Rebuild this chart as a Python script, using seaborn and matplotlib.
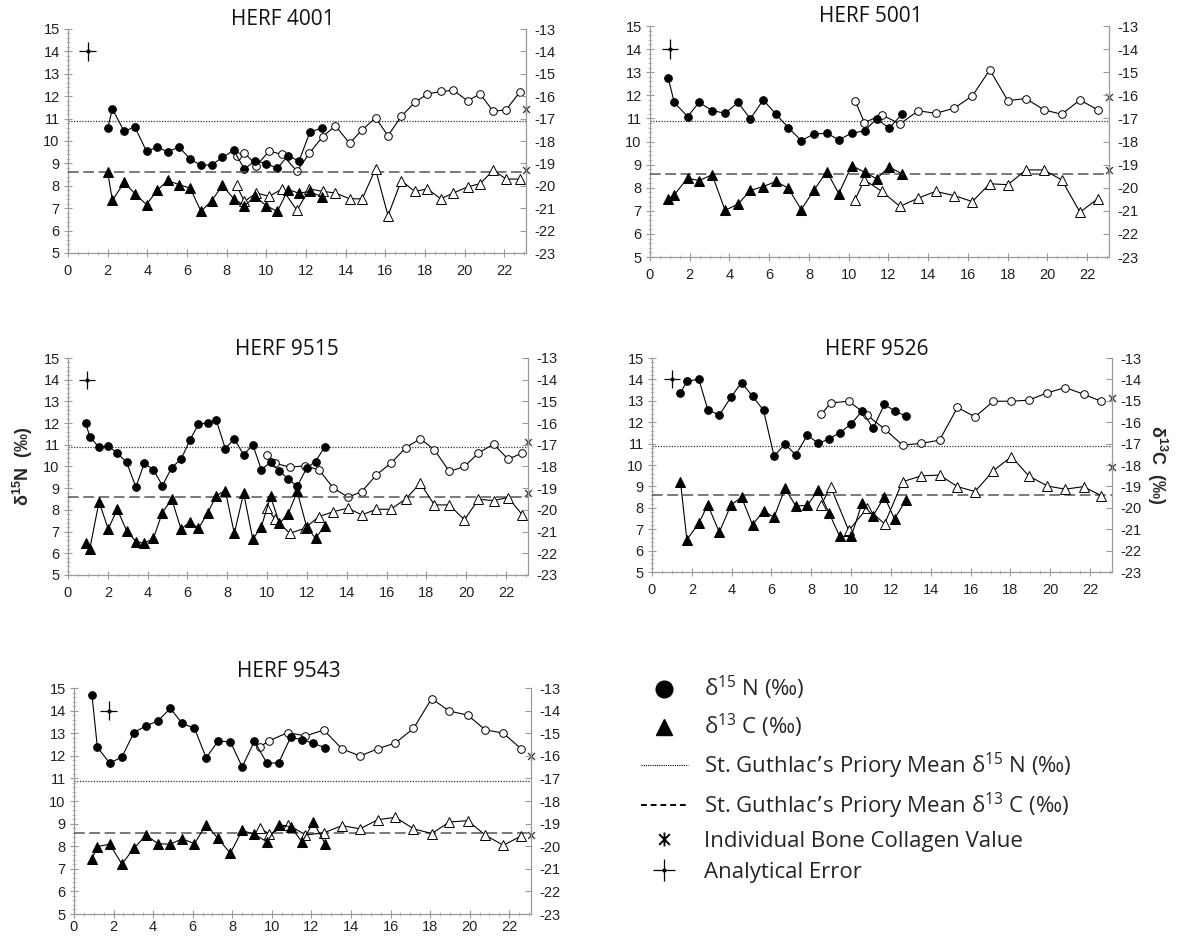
import matplotlib
matplotlib.use("Agg")
import matplotlib.pyplot as plt
import seaborn as sns
from matplotlib.lines import Line2D
from matplotlib.path import Path
from matplotlib.ticker import MultipleLocator

# ---- data ----
MEAN_N = 10.9
MEAN_C = -19.4

# HERF 4001
X_FILL_4001 = [2.0, 2.24, 2.83, 3.37, 3.96, 4.5, 5.03, 5.6, 6.16, 6.71, 7.25, 7.79, 8.35, 8.9, 9.44, 10.0, 10.56, 11.1, 11.65, 12.2, 12.8]
N_FILL_4001 = [10.58, 11.43, 10.43, 10.63, 9.54, 9.72, 9.52, 9.73, 9.2, 8.91, 8.94, 9.27, 9.58, 8.75, 9.12, 8.99, 8.78, 9.35, 9.1, 10.4, 10.58]
C_FILL_4001 = [-19.4, -20.65, -19.85, -20.35, -20.84, -20.2, -19.76, -19.95, -20.1, -21.14, -20.66, -19.98, -20.57, -20.89, -20.47, -20.89, -21.14, -20.17, -20.33, -20.25, -20.5]
X_OPEN_4001 = [8.5, 8.9, 9.5, 10.15, 10.8, 11.55, 12.17, 12.85, 13.49, 14.2, 14.84, 15.51, 16.14, 16.81, 17.49, 18.13, 18.8, 19.44, 20.15, 20.79, 21.45, 22.1, 22.78]
N_OPEN_4001 = [9.35, 9.48, 8.9, 9.55, 9.4, 8.65, 9.45, 10.2, 10.68, 9.9, 10.5, 11.03, 10.24, 11.1, 11.72, 12.1, 12.21, 12.26, 11.8, 12.1, 11.32, 11.4, 12.17]
C_OPEN_4001 = [-19.98, -20.7, -20.32, -20.47, -20.14, -21.1, -20.14, -20.25, -20.32, -20.58, -20.58, -19.25, -21.33, -19.77, -20.25, -20.14, -20.58, -20.32, -20.05, -19.9, -19.31, -19.7, -19.7]

# HERF 5001
X_FILL_5001 = [0.92, 1.22, 1.89, 2.47, 3.13, 3.78, 4.43, 5.05, 5.7, 6.34, 6.96, 7.61, 8.24, 8.9, 9.5, 10.15, 10.8, 11.4, 12.04, 12.68]
N_FILL_5001 = [12.74, 11.69, 11.08, 11.69, 11.34, 11.22, 11.69, 10.98, 11.8, 11.18, 10.6, 10.04, 10.32, 10.36, 10.07, 10.36, 10.46, 10.98, 10.58, 11.18]
C_FILL_5001 = [-20.49, -20.31, -19.59, -19.69, -19.44, -20.98, -20.71, -20.12, -19.95, -19.73, -20.02, -20.95, -20.12, -19.3, -20.26, -19.04, -19.33, -19.61, -19.1, -19.4]
X_OPEN_5001 = [10.32, 10.79, 11.67, 12.58, 13.5, 14.38, 15.3, 16.22, 17.1, 18.01, 18.92, 19.82, 20.72, 21.64, 22.53]
N_OPEN_5001 = [11.77, 10.82, 11.15, 10.76, 11.33, 11.22, 11.44, 11.97, 13.1, 11.77, 11.86, 11.37, 11.18, 11.8, 11.37]
C_OPEN_5001 = [-20.52, -19.66, -20.16, -20.81, -20.45, -20.16, -20.34, -20.6, -19.83, -19.87, -19.23, -19.23, -19.66, -21.06, -20.48]

# HERF 9515
X_FILL_9515 = [0.89, 1.09, 1.56, 2.02, 2.47, 2.94, 3.41, 3.83, 4.29, 4.74, 5.21, 5.68, 6.13, 6.55, 7.01, 7.45, 7.9, 8.35, 8.82, 9.28, 9.71, 10.17, 10.62, 11.06, 11.51, 11.98, 12.43, 12.89]
N_FILL_9515 = [12.0, 11.38, 10.88, 10.95, 10.62, 10.2, 9.05, 10.15, 9.85, 9.12, 9.95, 10.34, 11.23, 11.95, 12.0, 12.12, 10.82, 11.28, 10.54, 11.0, 9.85, 10.2, 9.8, 9.42, 9.08, 9.92, 10.23, 10.9]
C_FILL_9515 = [-21.51, -21.82, -19.62, -20.89, -19.97, -20.95, -21.46, -21.54, -21.31, -20.12, -19.51, -20.89, -20.54, -20.85, -20.15, -19.34, -19.11, -21.08, -19.23, -21.35, -20.77, -19.38, -20.62, -20.18, -19.15, -20.77, -21.31, -20.74]
X_OPEN_9515 = [10.0, 10.4, 11.14, 11.88, 12.6, 13.33, 14.06, 14.75, 15.49, 16.21, 16.97, 17.69, 18.4, 19.15, 19.91, 20.61, 21.37, 22.1, 22.82]
N_OPEN_9515 = [10.54, 10.15, 9.97, 10.03, 9.85, 9.0, 8.59, 8.84, 9.62, 10.15, 10.87, 11.28, 10.77, 9.77, 10.0, 10.62, 11.03, 10.34, 10.62]
C_OPEN_9515 = [-19.92, -20.43, -21.08, -20.85, -20.31, -20.08, -19.92, -20.23, -19.97, -19.97, -19.49, -18.77, -19.77, -19.77, -20.46, -19.51, -19.57, -19.43, -20.23]

# HERF 9526
X_FILL_9526 = [1.43, 1.75, 2.35, 2.8, 3.38, 3.97, 4.5, 5.05, 5.6, 6.13, 6.68, 7.22, 7.8, 8.35, 8.88, 9.43, 10.0, 10.55, 11.1, 11.67, 12.18, 12.75]
N_FILL_9526 = [13.37, 13.91, 14.01, 12.59, 12.33, 13.18, 13.85, 13.21, 12.56, 10.42, 10.98, 10.47, 11.4, 11.01, 11.21, 11.51, 11.91, 12.53, 11.71, 12.83, 12.53, 12.28]
C_FILL_9526 = [-18.78, -21.49, -20.72, -19.86, -21.14, -19.86, -19.51, -20.8, -20.14, -20.44, -19.09, -19.91, -19.89, -19.16, -20.22, -21.34, -21.34, -19.79, -20.38, -19.48, -20.52, -19.63]
X_OPEN_9526 = [8.5, 8.97, 9.88, 10.8, 11.68, 12.58, 13.52, 14.44, 15.34, 16.22, 17.14, 18.05, 18.92, 19.85, 20.75, 21.67, 22.55]
N_OPEN_9526 = [12.36, 12.9, 12.98, 12.33, 11.68, 10.93, 11.01, 11.16, 12.69, 12.25, 12.98, 12.98, 13.03, 13.37, 13.62, 13.31, 12.98]
C_OPEN_9526 = [-19.86, -19.01, -21.06, -20.02, -20.75, -18.78, -18.51, -18.47, -19.01, -19.24, -18.27, -17.61, -18.51, -18.98, -19.13, -19.01, -19.43]

# HERF 9543
X_FILL_9543 = [0.91, 1.18, 1.8, 2.42, 3.03, 3.65, 4.24, 4.87, 5.47, 6.09, 6.68, 7.27, 7.9, 8.5, 9.12, 9.75, 10.34, 10.95, 11.53, 12.1, 12.71]
N_FILL_9543 = [14.68, 12.38, 11.68, 11.94, 13.03, 13.33, 13.54, 14.1, 13.43, 13.22, 11.91, 12.64, 12.63, 11.51, 12.64, 11.68, 11.68, 12.82, 12.71, 12.55, 12.35]
C_FILL_9543 = [-20.57, -20.02, -19.91, -20.79, -20.09, -19.51, -19.89, -19.91, -19.67, -19.89, -19.04, -19.65, -20.31, -19.3, -19.48, -19.8, -19.04, -19.14, -19.81, -18.93, -19.92]
X_OPEN_9543 = [9.41, 9.88, 10.81, 11.7, 12.63, 13.54, 14.46, 15.35, 16.25, 17.16, 18.08, 18.97, 19.9, 20.79, 21.7, 22.6]
N_OPEN_9543 = [12.41, 12.67, 13.03, 12.88, 13.14, 12.31, 11.99, 12.31, 12.57, 13.21, 14.53, 13.98, 13.8, 13.15, 13.0, 12.31]
C_OPEN_9543 = [-19.19, -19.48, -19.04, -19.5, -19.41, -19.09, -19.23, -18.83, -18.72, -19.23, -19.44, -18.93, -18.87, -19.51, -19.96, -19.55]

TITLES = ["HERF 4001", "HERF 5001", "HERF 9515", "HERF 9526", "HERF 9543"]
BONE_N = [11.43, 11.94, 11.12, 13.11, 12.01]
BONE_C = [-19.28, -19.23, -19.23, -18.08, -19.52]
ERR_X = [1.0, 1.0, 0.95, 1.0, 1.75]
ERR_Y = 14.0
XMAX = 23.1

panels = [
    (X_FILL_4001, N_FILL_4001, C_FILL_4001, X_OPEN_4001, N_OPEN_4001, C_OPEN_4001),
    (X_FILL_5001, N_FILL_5001, C_FILL_5001, X_OPEN_5001, N_OPEN_5001, C_OPEN_5001),
    (X_FILL_9515, N_FILL_9515, C_FILL_9515, X_OPEN_9515, N_OPEN_9515, C_OPEN_9515),
    (X_FILL_9526, N_FILL_9526, C_FILL_9526, X_OPEN_9526, N_OPEN_9526, C_OPEN_9526),
    (X_FILL_9543, N_FILL_9543, C_FILL_9543, X_OPEN_9543, N_OPEN_9543, C_OPEN_9543),
]

# axes boxes in pixels: x0, x_right, y_top, y_bottom ; title centre x and baseline y
W, H = 1185, 938
BOXES = [(68, 526, 29, 253), (650, 1109, 26, 257), (68, 528, 358, 575),
         (652, 1112, 358, 572), (74, 531, 688, 914)]
TITLE_POS = [(283, 25), (871, 22), (287, 355), (877, 355), (289, 677)]
XPAD = [5, 5, 5, 5, 1]

# star marker (x with a vertical bar), like the spreadsheet "star"
STAR = Path([(-1, -1), (1, 1), (-1, 1), (1, -1), (0, -1.3), (0, 1.3)],
            [Path.MOVETO, Path.LINETO, Path.MOVETO, Path.LINETO, Path.MOVETO, Path.LINETO])

sns.set_style("ticks")
plt.rcParams['font.family'] = ['Liberation Sans', 'DejaVu Sans']
plt.rcParams['axes.unicode_minus'] = False
plt.rcParams['mathtext.default'] = 'regular'

fig = plt.figure(figsize=(W / 100, H / 100), dpi=100)
grey = "#9a9a9a"
err_handle = None

for i, (xf, nf, cf, xo, no, co) in enumerate(panels):
    x0, x1, yt, yb = BOXES[i]
    ax = fig.add_axes([x0 / W, 1 - yb / H, (x1 - x0) / W, (yb - yt) / H])
    ax2 = ax.twinx()

    # delta 15N on left axis
    sns.lineplot(x=xo, y=no, ax=ax, color="black", lw=0.8, marker="o", ms=5.5,
                 markerfacecolor="white", markeredgecolor="black", markeredgewidth=0.7)
    sns.lineplot(x=xf, y=nf, ax=ax, color="black", lw=0.8, marker="o", ms=5.5,
                 markerfacecolor="black", markeredgecolor="black")
    # delta 13C on right axis
    sns.lineplot(x=xo, y=co, ax=ax2, color="black", lw=0.8, marker="^", ms=6.5,
                 markerfacecolor="white", markeredgecolor="black", markeredgewidth=0.7)
    sns.lineplot(x=xf, y=cf, ax=ax2, color="black", lw=0.8, marker="^", ms=6.5,
                 markerfacecolor="black", markeredgecolor="black")

    ax.axhline(MEAN_N, color="#333333", lw=0.9, ls=(0, (1, 1.2)), zorder=1)
    ax2.axhline(MEAN_C, color="#555555", lw=1.1, ls=(0, (7, 3)), zorder=1)

    ax.plot([XMAX], [BONE_N[i]], marker=STAR, color="#333333", ms=6.5, mew=0.9, ls="none", clip_on=False)
    ax2.plot([XMAX], [BONE_C[i]], marker=STAR, color="#333333", ms=6.5, mew=0.9, ls="none", clip_on=False)

    eb = ax.errorbar([ERR_X[i]], [ERR_Y], xerr=0.42, yerr=0.42, fmt=".", color="black",
                     ms=4, elinewidth=0.9, capsize=0)
    err_handle = eb

    ax.set_xlim(0, XMAX)
    ax.set_ylim(5, 15)
    ax2.set_ylim(-23, -13)
    ax.xaxis.set_major_locator(MultipleLocator(2))
    ax.xaxis.set_minor_locator(MultipleLocator(0.5))
    ax.yaxis.set_major_locator(MultipleLocator(1))
    ax.yaxis.set_minor_locator(MultipleLocator(0.2))
    ax2.yaxis.set_major_locator(MultipleLocator(1))
    ax.set_xlabel("")
    ax.set_ylabel("")
    ax2.set_ylabel("")

    ax.tick_params(which="major", direction="inout", length=6, width=0.8, color=grey,
                   labelsize=10.5, labelcolor="#222222", pad=3)
    ax.tick_params(axis="x", which="major", pad=XPAD[i])
    ax.tick_params(which="minor", direction="inout", length=3, width=0.6, color="#b5b5b5")
    ax2.tick_params(which="major", direction="in", length=4, width=0.8, color=grey,
                    labelsize=10.5, labelcolor="#222222", pad=6)

    for s in ["top", "right"]:
        ax.spines[s].set_visible(False)
    for s in ["top", "left", "bottom"]:
        ax2.spines[s].set_visible(False)
    ax.spines["left"].set_color(grey)
    ax.spines["bottom"].set_color(grey)
    ax2.spines["right"].set_color(grey)
    for s in ["left", "bottom"]:
        ax.spines[s].set_linewidth(0.9)
    ax2.spines["right"].set_linewidth(0.9)

    tx, ty = TITLE_POS[i]
    fig.text(tx / W, 1 - ty / H, TITLES[i], ha="center", va="baseline",
             fontsize=15, family=["Open Sans", "DejaVu Sans"], color="#111111")

    if i == 2:
        ax.set_ylabel(r"δ$^{15}$N  (‰)", fontsize=13, fontweight="bold", labelpad=6)
    if i == 3:
        ax2.set_ylabel(r"δ$^{13}$C  (‰)", fontsize=13, fontweight="bold", rotation=270,
                       labelpad=20)

# legend
handles = [
    Line2D([], [], marker="o", ls="none", color="black", ms=12),
    Line2D([], [], marker="^", ls="none", color="black", ms=12),
    Line2D([], [], ls=(0, (1, 1)), color="black", lw=0.8),
    Line2D([], [], ls=(0, (3, 2)), color="black", lw=1.4),
    Line2D([], [], marker=STAR, ls="none", color="black", ms=10, mew=1.4),
    err_handle,
]
labels = [
    r"δ$^{15}$ N (‰)",
    r"δ$^{13}$ C (‰)",
    r"St. Guthlac’s Priory Mean δ$^{15}$ N (‰)",
    r"St. Guthlac’s Priory Mean δ$^{13}$ C (‰)",
    "Individual Bone Collagen Value",
    "Analytical Error",
]
fig.legend(handles, labels, loc="upper left", bbox_to_anchor=(641 / W, 1 - 674 / H),
           frameon=False, prop={"family": ["Open Sans", "DejaVu Sans"], "size": 16},
           handlelength=2.1, handletextpad=0.75, labelspacing=0.45, borderpad=0, borderaxespad=0)

fig.savefig("out.png", dpi=100)
